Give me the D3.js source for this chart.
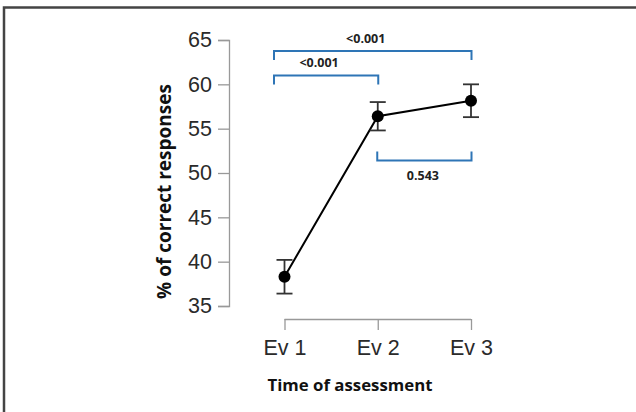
<!DOCTYPE html>
<html>
<head>
<meta charset="utf-8">
<script src="https://cdn.jsdelivr.net/npm/d3@7"></script>
<style>
  body { margin: 0; background: #fff; }
  svg { display: block; }
</style>
</head>
<body>
<div class="chart"></div>
<script>
// 評估時間點
const times = ['Ev 1', 'Ev 2', 'Ev 3'];
// 平均值與誤差
const means = [38.3, 56.4, 58.15];
const upper = [40.2, 58.0, 60.0];
const lower = [36.4, 54.8, 56.3];
// y 軸刻度
const yTicks = [35, 40, 45, 50, 55, 60, 65];
// 顯著性比較
const pairs = [
  { from: 'Ev 1', to: 'Ev 2', level: 61.0, label: '<0.001', dir: 'down' },
  { from: 'Ev 1', to: 'Ev 3', level: 63.75, label: '<0.001', dir: 'down' },
  { from: 'Ev 2', to: 'Ev 3', level: 51.4, label: '0.543', dir: 'up' },
];

const width = 636;
const height = 412;

const svg = d3
  .select('.chart')
  .append('svg')
  .attr('width', width)
  .attr('height', height);

// 外框
svg.append('path')
  .attr('d', `M4,${height} L4,7.5 L${width},7.5`)
  .attr('fill', 'none')
  .attr('stroke', '#444')
  .attr('stroke-width', 2.5);

const x = d3.scalePoint().domain(times).range([284.5, 471]);
const y = d3.scaleLinear().domain([35, 65]).range([306, 40]);

const axisColor = '#999';
const textFont = 'Liberation Sans, Arial, sans-serif';
const boldFont = 'Open Sans, Noto Sans, sans-serif';

// y 軸
const yAxis = svg.append('g')
  .attr('transform', 'translate(229,0)')
  .call(d3.axisLeft(y).tickValues(yTicks).tickSize(11).tickPadding(6));
yAxis.select('.domain').attr('stroke', axisColor).attr('stroke-width', 1.3);
yAxis.selectAll('.tick line').attr('stroke', axisColor).attr('stroke-width', 1.3);
yAxis.selectAll('.tick text')
  .attr('fill', '#2a2a2a')
  .style('font-family', textFont)
  .style('font-size', '21.5px');

// x 軸
const xAxis = svg.append('g')
  .attr('transform', 'translate(0,319)')
  .call(d3.axisBottom(x).tickSizeInner(11).tickSizeOuter(0).tickPadding(10));
xAxis.select('.domain')
  .attr('d', `M${x('Ev 1')},0.5H${x('Ev 3')}`)
  .attr('stroke', axisColor).attr('stroke-width', 1.3);
xAxis.selectAll('.tick line').attr('stroke', axisColor).attr('stroke-width', 1.3);
xAxis.selectAll('.tick text')
  .attr('fill', '#2a2a2a')
  .style('font-family', textFont)
  .style('font-size', '21.5px');

// 軸標題
svg.append('text')
  .attr('x', 350)
  .attr('y', 391)
  .attr('text-anchor', 'middle')
  .style('font-family', boldFont)
  .style('font-weight', 'bold')
  .style('font-size', '16.8px')
  .attr('fill', '#111')
  .text('Time of assessment');

svg.append('text')
  .attr('transform', 'translate(171,191.5) rotate(-90)')
  .attr('text-anchor', 'middle')
  .style('font-family', boldFont)
  .style('font-weight', 'bold')
  .style('font-size', '19px')
  .attr('fill', '#111')
  .text('% of correct responses');

const data = times.map((t, i) => ({ t, m: means[i], hi: upper[i], lo: lower[i] }));

// 連線
svg.append('path')
  .datum(data)
  .attr('fill', 'none')
  .attr('stroke', '#000')
  .attr('stroke-width', 2)
  .attr('d', d3.line().x((d) => x(d.t)).y((d) => y(d.m)));

// 誤差線
const err = svg.selectAll('.err').data(data).join('g').attr('class', 'err')
  .attr('stroke', '#333').attr('stroke-width', 1.8);
err.append('line')
  .attr('x1', (d) => x(d.t)).attr('x2', (d) => x(d.t))
  .attr('y1', (d) => y(d.hi)).attr('y2', (d) => y(d.lo));
err.append('line')
  .attr('x1', (d) => x(d.t) - 8).attr('x2', (d) => x(d.t) + 8)
  .attr('y1', (d) => y(d.hi)).attr('y2', (d) => y(d.hi));
err.append('line')
  .attr('x1', (d) => x(d.t) - 8).attr('x2', (d) => x(d.t) + 8)
  .attr('y1', (d) => y(d.lo)).attr('y2', (d) => y(d.lo));

// 點
svg.selectAll('.pt').data(data).join('circle').attr('class', 'pt')
  .attr('cx', (d) => x(d.t))
  .attr('cy', (d) => y(d.m))
  .attr('r', 6)
  .attr('fill', '#000');

// 顯著性括號
const bracketColor = '#2e75b6';
pairs.forEach((p) => {
  const x1 = x(p.from) - (p.from === 'Ev 1' ? 10.5 : 0.5);
  const x2 = x(p.to) + 0.5;
  const yy = y(p.level);
  const down = p.dir === 'down';
  const leg = down ? 9 : -9;
  svg.append('path')
    .attr('d', `M${x1},${yy + leg}V${yy}H${x2}V${yy + leg}`)
    .attr('fill', 'none')
    .attr('stroke', bracketColor)
    .attr('stroke-width', 2);
  svg.append('text')
    .attr('x', (x1 + x2) / 2 - (down ? 7 : 1.5))
    .attr('y', down ? yy - 8 : yy + 19)
    .attr('text-anchor', 'middle')
    .style('font-family', boldFont)
    .style('font-weight', 'bold')
    .style('font-size', '12.5px')
    .attr('fill', '#222')
    .text(p.label);
});
</script>
</body>
</html>
